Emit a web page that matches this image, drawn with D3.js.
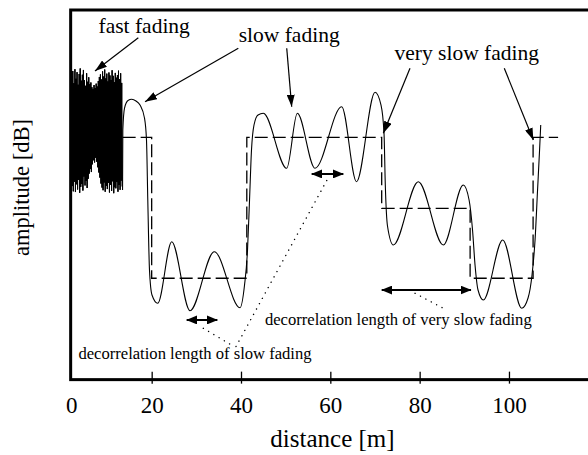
<!DOCTYPE html>
<html>
<head>
<meta charset="utf-8">
<script src="https://cdn.jsdelivr.net/npm/d3@7"></script>
<style>
body { margin: 0; background: #fff; }
svg { display: block; }
svg text { font-family: "Liberation Serif", Tinos, "Times New Roman", Times, "DejaVu Serif", serif; fill: #000; }
</style>
</head>
<body>
<svg id="viz" width="588" height="455"></svg>
<script>
// fast fading: amplitude samples (arbitrary dB units), evenly spaced in distance
var fastStart = 2.1, fastStep = 0.119;
var fastAmp = [
	82.1, 52.4, 83.5, 51.0, 80.2, 53.6, 84.0, 50.8, 81.4, 52.9,
	83.2, 51.5, 79.8, 54.1, 82.7, 50.6, 84.2, 52.2, 80.9, 53.0,
	82.5, 51.2, 83.8, 55.0, 81.0, 52.6, 79.5, 53.8, 82.9, 51.9,
	80.6, 54.4, 81.8, 55.8, 79.9, 57.0, 80.4, 56.2, 79.1, 58.3,
	78.6, 59.4, 79.7, 58.8, 78.9, 60.1, 80.1, 59.0, 79.3, 57.5,
	80.8, 56.1, 81.9, 54.7, 82.6, 53.1, 81.2, 52.0, 83.4, 51.3,
	82.0, 53.4, 83.9, 50.9, 81.5, 52.5, 82.8, 51.6, 80.7, 53.3,
	83.1, 50.7, 82.3, 52.8, 81.1, 51.1, 83.7, 53.7, 82.2, 50.5,
	80.5, 52.1, 83.0, 51.8, 81.7, 53.5, 82.4, 50.9, 83.6, 52.7,
	81.3, 51.4, 82.9, 53.9, 80.3, 52.3
];

// slow fading curve
var slowDist = [13.48, 13.54, 13.92, 14.70, 15.53, 16.49, 17.39, 18.39, 18.84, 19.13,
	19.51, 20.07, 21.35, 24.49, 28.58, 34.02, 39.78, 40.79, 41.46, 41.91,
	42.35, 42.91, 43.81, 45.00, 50.24, 52.61, 56.57, 62.55, 65.86, 70.01,
	71.35, 72.02, 72.31, 72.80, 74.10, 79.70, 85.30, 89.78, 91.07, 91.84,
	92.40, 93.07, 94.26, 98.60, 102.86, 104.27, 105.16, 105.84, 106.40, 106.85,
	107.11];
var slowAmp = [51.35, 67.57, 73.51, 75.54, 75.86, 75.41, 74.32, 70.81, 64.86, 48.65,
	29.73, 22.97, 20.73, 37.38, 18.73, 34.68, 19.54, 25.68, 35.14, 48.65,
	62.16, 68.92, 71.62, 72.08, 57.22, 72.08, 57.22, 73.86, 53.59, 77.76,
	74.32, 66.76, 52.70, 41.62, 36.49, 53.59, 36.49, 52.70, 48.65, 40.54,
	31.08, 24.32, 21.62, 37.84, 19.38, 22.16, 28.38, 37.84, 51.35, 62.16,
	68.92];

// very slow fading: local mean (step)
var meanDist = [13.5, 20.0, 41.3, 71.5, 91.3, 105.4, 111.0];
var meanLevel = [65.6, 27.5, 65.6, 46.4, 27.5, 65.6, 65.6];

var xTicks = [20, 40, 60, 80, 100];

// annotations in data units
var arrows = [		// from dist, from amp, to dist, to amp
	[17.01, 92.51, 7.31, 83.51],
	[39.40, 89.65, 18.51, 75.22],
	[50.24, 89.65, 51.35, 73.86],
	[77.84, 84.24, 71.87, 66.68],
	[98.95, 84.24, 105.45, 64.86]
];
var spans = [[27.84, 34.70, 16.22], [55.83, 62.91, 55.68], [71.51, 91.50, 24.32]];
var leaders = [[31.56, 13.97, 38.43, 9.05], [38.88, 9.05, 59.26, 54.05], [78.97, 23.43, 85.30, 19.38]];
var bigNotes = [["fast fading", 18.33, 93.78], ["slow fading", 50.79, 91.35], ["very slow fading", 90.54, 86.49]];
var smallNotes = [["decorrelation length of slow fading", 29.70, 5.68],
	["decorrelation length of very slow fading", 75.22, 14.86]];

var serif = '"Liberation Serif", Tinos, "Times New Roman", Times, "DejaVu Serif", serif';
var svg = d3.select("#viz");

var x = d3.scaleLinear().domain([0, 120]).range([62.35, 598.3]);
var y = d3.scaleLinear().domain([0, 100]).range([380, 10]);

var defs = svg.append("defs");
defs.append("marker")
		.attr("id", "head")
		.attr("viewBox", "0 0 12 8")
		.attr("markerUnits", "userSpaceOnUse")
		.attr("markerWidth", 12).attr("markerHeight", 8)
		.attr("refX", 12).attr("refY", 4)
		.attr("orient", "auto-start-reverse")
	.append("path")
		.attr("d", "M0,0L12,4L0,8Z")
		.attr("fill", "#000");
defs.append("marker")
		.attr("id", "head2")
		.attr("viewBox", "0 0 11 9")
		.attr("markerUnits", "userSpaceOnUse")
		.attr("markerWidth", 11).attr("markerHeight", 9)
		.attr("refX", 10.5).attr("refY", 4.5)
		.attr("orient", "auto-start-reverse")
	.append("path")
		.attr("d", "M0,0L11,4.5L0,9Z")
		.attr("fill", "#000");

var line = d3.line().x(function(d) { return x(d[0]); }).y(function(d) { return y(d[1]); });

// mean level (dashed)
var meanPts = meanDist.map(function(d, i) { return [d, meanLevel[i]]; });
svg.append("path")
	.attr("d", line.curve(d3.curveStepAfter)(meanPts))
	.attr("fill", "none")
	.attr("stroke", "#000")
	.attr("stroke-width", 1.3)
	.attr("stroke-dasharray", "13,5");

// fast fading: samples are too dense to resolve, so fill the band each
// up/down swing covers and trace the zigzag on top for the ragged edge
var fastPts = fastAmp.map(function(a, i) { return [fastStart + i * fastStep, a]; });
var swings = d3.pairs(fastPts).map(function(p) {
	return { d: p[0][0], lo: Math.min(p[0][1], p[1][1]), hi: Math.max(p[0][1], p[1][1]) };
});
svg.append("path")
	.attr("d", d3.area()
		.x(function(d) { return x(d.d); })
		.y0(function(d) { return y(d.lo); })
		.y1(function(d) { return y(d.hi); })
		.curve(d3.curveStepAfter)(swings.concat([{ d: fastPts[fastPts.length - 1][0], lo: swings[swings.length - 1].lo, hi: swings[swings.length - 1].hi }])))
	.attr("fill", "#000");
svg.append("path")
	.attr("d", line.curve(d3.curveLinear)(fastPts))
	.attr("fill", "none")
	.attr("stroke", "#000")
	.attr("stroke-width", 1);

// slow fading
var slowPts = slowDist.map(function(d, i) { return [d, slowAmp[i]]; });
svg.append("path")
	.attr("d", line.curve(d3.curveMonotoneX)(slowPts))
	.attr("fill", "none")
	.attr("stroke", "#000")
	.attr("stroke-width", 1.1);

// arrows
svg.selectAll(".arrow")
	.data(arrows)
	.enter().append("line")
		.attr("class", "arrow")
		.attr("x1", function(d) { return x(d[0]); })
		.attr("y1", function(d) { return y(d[1]); })
		.attr("x2", function(d) { return x(d[2]); })
		.attr("y2", function(d) { return y(d[3]); })
		.attr("stroke", "#000")
		.attr("stroke-width", 1.2)
		.attr("marker-end", "url(#head)");

svg.selectAll(".span")
	.data(spans)
	.enter().append("line")
		.attr("class", "span")
		.attr("x1", function(d) { return x(d[0]); })
		.attr("x2", function(d) { return x(d[1]); })
		.attr("y1", function(d) { return y(d[2]); })
		.attr("y2", function(d) { return y(d[2]); })
		.attr("stroke", "#000")
		.attr("stroke-width", 2)
		.attr("marker-start", "url(#head2)")
		.attr("marker-end", "url(#head2)");

svg.selectAll(".leader")
	.data(leaders)
	.enter().append("line")
		.attr("class", "leader")
		.attr("x1", function(d) { return x(d[0]); })
		.attr("y1", function(d) { return y(d[1]); })
		.attr("x2", function(d) { return x(d[2]); })
		.attr("y2", function(d) { return y(d[3]); })
		.attr("stroke", "#000")
		.attr("stroke-width", 1.4)
		.attr("stroke-linecap", "round")
		.attr("stroke-dasharray", "0.1,6");

svg.selectAll(".big")
	.data(bigNotes)
	.enter().append("text")
		.attr("class", "big")
		.attr("x", function(d) { return x(d[1]); })
		.attr("y", function(d) { return y(d[2]); })
		.attr("text-anchor", "middle")
		.style("font-family", serif)
		.style("font-size", "21.5px")
		.text(function(d) { return d[0]; });

svg.selectAll(".small")
	.data(smallNotes)
	.enter().append("text")
		.attr("class", "small")
		.attr("x", function(d) { return x(d[1]); })
		.attr("y", function(d) { return y(d[2]); })
		.attr("text-anchor", "middle")
		.style("font-family", serif)
		.style("font-size", "16.6px")
		.text(function(d) { return d[0]; });

// frame (right edge runs off the picture)
var x0 = 1.86;
svg.append("rect")
	.attr("x", x(x0))
	.attr("y", y(100))
	.attr("width", x(120) - x(x0))
	.attr("height", y(0.1) - y(100))
	.attr("fill", "none")
	.attr("stroke", "#000")
	.attr("stroke-width", 3);

var axis = svg.append("g")
	.attr("transform", "translate(0," + y(0.1) + ")")
	.call(d3.axisBottom(x).tickValues(xTicks).tickSizeInner(-8).tickSizeOuter(0).tickPadding(17));
axis.attr("font-family", null).attr("font-size", null);
axis.select(".domain").remove();
axis.selectAll(".tick line").attr("y1", 4).attr("stroke-width", 1.3);
axis.selectAll(".tick text")
	.style("font-family", serif)
	.style("font-size", "23px");
axis.append("text")
	.attr("x", x(x0) + 1)
	.attr("y", 17)
	.attr("dy", "0.71em")
	.attr("text-anchor", "middle")
	.style("font-family", serif)
	.style("font-size", "23px")
	.text("0");

svg.append("text")
	.attr("x", 332.5)
	.attr("y", 447)
	.attr("text-anchor", "middle")
	.style("font-family", serif)
	.style("font-size", "25px")
	.text("distance [m]");

svg.append("text")
	.attr("transform", "translate(29,187.5) rotate(-90)")
	.attr("text-anchor", "middle")
	.style("font-family", serif)
	.style("font-size", "22.5px")
	.text("amplitude [dB]");
</script>
</body>
</html>
